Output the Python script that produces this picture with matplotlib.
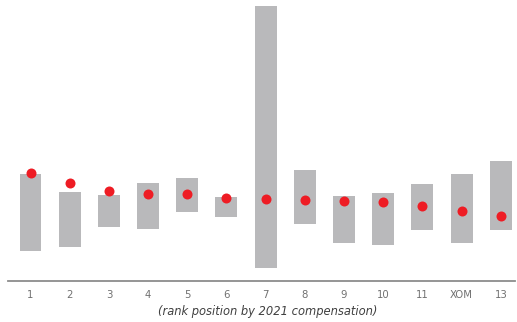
import matplotlib
matplotlib.use("Agg")
import matplotlib.pyplot as plt

categories = ["1", "2", "3", "4", "5", "6", "7", "8", "9", "10", "11", "XOM", "13"]
range_low = [30.3, 34.3, 54.0, 52.3, 69.3, 63.7, 12.7, 57.3, 38.0, 36.3, 51.0, 38.0, 51.0]
range_high = [107.0, 88.7, 85.7, 98.3, 103.3, 84.0, 275.0, 111.0, 85.3, 88.0, 96.7, 106.7, 120.3]
dot_values = [107.7, 97.7, 89.7, 87.3, 86.7, 82.7, 82.0, 81.0, 80.0, 78.7, 75.3, 70.0, 65.0]

fig = plt.figure(figsize=(5.17, 3.22), dpi=100)
ax = fig.add_axes([0.0155, 0.127, 0.9805, 0.873])

x = list(range(len(categories)))
heights = [h - l for h, l in zip(range_high, range_low)]
ax.bar(x, heights, bottom=range_low, width=0.56, color="#b9b9bb", zorder=1)
ax.plot(x, dot_values, "o", color="#ee1c24", markersize=7.2, markeredgewidth=0, zorder=2)

ax.set_xlim(-0.574, 12.36)
ax.set_ylim(0, 281)
ax.set_xticks(x)
ax.set_xticklabels(categories, fontsize=7.3, color="#707070", family="DejaVu Sans")
ax.tick_params(axis="x", length=0, pad=6.5)
ax.set_yticks([])
for s in ["top", "right", "left"]:
    ax.spines[s].set_visible(False)
ax.spines["bottom"].set_color("#8c8c8c")
ax.spines["bottom"].set_linewidth(1.3)
ax.set_xlabel("(rank position by 2021 compensation)", fontsize=8.3, style="italic",
              color="#404040", family="DejaVu Sans")
ax.xaxis.set_label_coords(0.513, -0.085)

fig.savefig("out.png", dpi=100)
